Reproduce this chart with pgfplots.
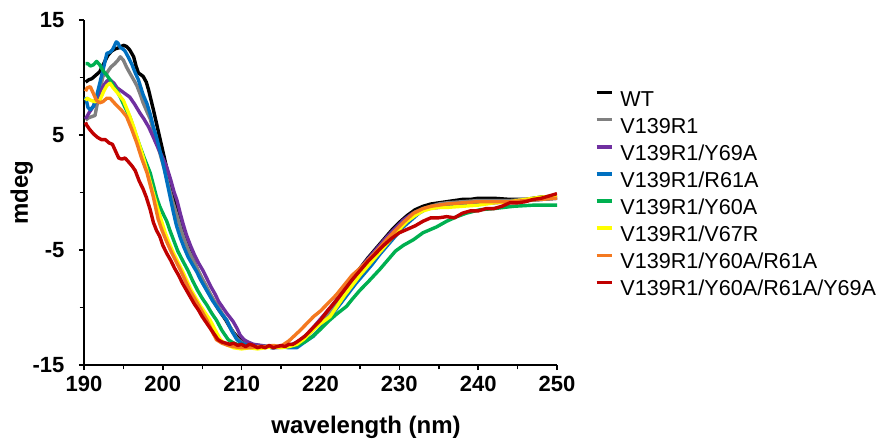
\documentclass[border=0pt]{standalone}
\usepackage{fontspec}
\setmainfont{Liberation Sans}
\usepackage{pgfplots}
\usepackage{pgfplotstable}
\pgfplotsset{compat=1.18}

\definecolor{cWT}{HTML}{000000}
\definecolor{cGray}{HTML}{808080}
\definecolor{cPurple}{HTML}{7030A0}
\definecolor{cBlue}{HTML}{0070C0}
\definecolor{cGreen}{HTML}{00B050}
\definecolor{cYellow}{HTML}{FFFF00}
\definecolor{cOrange}{HTML}{F47920}
\definecolor{cRed}{HTML}{C00000}

% CD spectra, wavelength (nm) vs mdeg
\pgfplotstableread{
x y
190.2 9.6
190.6 9.8
191.0 9.9
191.5 10.2
192.0 10.5
192.5 11.2
193.0 11.9
193.5 12.3
194.0 12.5
194.5 12.6
195.0 12.8
195.4 12.7
195.8 12.4
196.3 11.8
196.6 11.0
196.9 10.4
197.5 10.1
197.9 9.6
198.2 8.9
198.8 7.2
199.4 5.4
200.0 3.6
200.5 2.1
201.0 0.6
201.5 -0.8
202.0 -2.2
202.5 -3.4
203.0 -4.4
203.5 -5.3
204.0 -6.1
204.5 -6.9
205.0 -7.6
205.5 -8.3
206.0 -8.9
206.5 -9.5
207.0 -10.1
207.5 -10.6
208.0 -11.1
208.5 -11.7
209.0 -12.2
209.5 -12.6
210.0 -12.9
210.5 -13.1
211.0 -13.2
212.0 -13.3
213.0 -13.4
214.0 -13.5
215.0 -13.4
216.0 -13.3
217.0 -13.1
218.0 -12.6
219.0 -11.9
220.0 -11.1
221.0 -10.3
222.0 -9.4
223.0 -8.5
224.0 -7.5
225.0 -6.6
226.0 -5.7
227.0 -4.9
228.0 -4.1
229.0 -3.3
230.0 -2.6
231.0 -2.0
232.0 -1.5
233.0 -1.2
234.0 -1.0
235.0 -0.9
236.0 -0.8
237.0 -0.7
238.0 -0.6
239.0 -0.6
240.0 -0.5
242.0 -0.5
244.0 -0.6
246.0 -0.6
247.0 -0.5
248.0 -0.4
250.0 -0.3
}\wt

\pgfplotstableread{
x y
190.2 6.3
190.6 6.5
191.0 6.6
191.4 6.7
191.9 8.5
192.4 10.1
192.9 10.4
193.4 10.9
193.9 11.2
194.3 11.5
194.6 11.8
195.0 11.5
195.4 10.9
195.8 10.4
196.3 9.8
196.7 9.3
197.1 8.6
197.5 7.8
198.0 7.0
198.4 6.4
198.8 5.4
199.3 4.2
199.8 3.0
200.3 1.8
200.8 0.4
201.3 -0.9
201.8 -2.0
202.3 -3.2
202.8 -4.2
203.3 -5.1
203.8 -5.8
204.5 -6.8
205.0 -7.5
205.5 -8.1
206.0 -8.8
206.5 -9.4
207.0 -9.9
207.5 -10.5
208.1 -11.1
208.7 -11.9
209.3 -12.6
209.9 -13.0
210.5 -13.2
211.5 -13.3
212.5 -13.4
213.5 -13.4
214.5 -13.5
215.5 -13.4
216.5 -13.3
217.0 -13.2
218.0 -12.7
219.0 -12.0
220.0 -11.3
221.0 -10.5
222.0 -9.6
223.0 -8.7
224.0 -7.7
225.0 -6.8
226.0 -5.9
227.0 -5.1
228.0 -4.3
229.0 -3.5
230.0 -2.8
231.0 -2.2
232.0 -1.7
233.0 -1.4
234.0 -1.2
235.0 -1.0
236.0 -0.9
238.0 -0.8
240.0 -0.7
242.0 -0.7
244.0 -0.7
246.0 -0.6
248.0 -0.5
250.0 -0.4
}\vone

\pgfplotstableread{
x y
190.2 6.4
190.7 7.0
191.2 7.5
191.8 8.4
192.4 9.2
192.9 9.7
193.3 9.8
193.8 9.5
194.2 9.1
194.6 8.9
195.2 8.6
195.8 8.3
196.4 7.7
197.1 6.9
197.6 6.4
198.2 5.7
198.8 4.8
199.5 3.7
200.0 3.0
200.5 2.2
201.0 1.1
201.4 0.1
201.8 -0.7
202.2 -1.8
202.6 -2.8
203.0 -3.7
203.5 -4.6
204.0 -5.4
204.5 -6.1
205.1 -6.8
205.6 -7.5
206.1 -8.2
206.6 -8.8
207.1 -9.5
207.6 -10.0
208.1 -10.5
208.9 -11.2
209.4 -11.8
209.8 -12.4
210.3 -12.8
210.8 -13.0
211.5 -13.2
212.5 -13.3
213.5 -13.4
214.5 -13.4
215.5 -13.3
216.5 -13.2
217.5 -12.8
218.5 -12.2
219.5 -11.4
220.5 -10.6
221.5 -9.8
222.5 -8.9
223.5 -8.0
224.5 -7.1
225.5 -6.2
226.5 -5.4
227.5 -4.6
228.5 -3.8
229.5 -3.1
230.5 -2.4
231.5 -1.9
232.5 -1.6
233.5 -1.4
235.0 -1.3
236.0 -1.2
238.0 -1.1
240.0 -1.0
242.0 -0.9
244.0 -0.8
246.0 -0.7
248.0 -0.6
250.0 -0.5
}\vyA

\pgfplotstableread{
x y
190.2 8.3
190.5 7.4
190.8 7.2
191.2 7.5
191.6 8.4
192.0 9.5
192.5 10.9
192.9 12.1
193.3 12.2
193.6 12.4
194.1 13.1
194.3 13.0
194.6 12.6
194.9 12.5
195.2 12.3
195.6 11.8
196.1 11.1
196.5 10.4
196.9 9.8
197.5 8.5
198.0 7.7
198.4 6.8
198.8 5.7
199.2 4.8
199.6 3.7
200.0 2.6
200.5 1.0
200.9 -0.3
201.3 -1.6
201.7 -2.8
202.2 -3.9
202.7 -4.8
203.2 -5.6
203.7 -6.2
204.3 -6.9
204.8 -7.6
205.3 -8.2
205.8 -8.8
206.3 -9.4
206.8 -9.9
207.4 -10.5
208.1 -11.1
208.7 -12.0
209.4 -12.8
210.0 -13.1
210.8 -13.3
212.0 -13.4
213.0 -13.4
214.0 -13.5
215.0 -13.4
216.0 -13.5
217.0 -13.5
218.0 -13.0
219.1 -12.5
220.0 -11.8
221.0 -11.0
221.6 -10.5
222.5 -9.7
223.5 -8.8
224.5 -7.9
225.5 -7.1
226.5 -6.3
227.5 -5.4
228.5 -4.6
229.5 -3.8
230.5 -3.0
231.5 -2.4
232.5 -1.8
233.5 -1.4
234.5 -1.2
236.0 -1.1
238.0 -1.0
240.0 -0.9
242.0 -0.8
244.0 -0.8
246.0 -0.7
248.0 -0.6
250.0 -0.5
}\vrA

\pgfplotstableread{
x y
190.2 11.2
190.5 11.2
190.8 11.0
191.2 11.1
191.6 11.4
192.0 11.1
192.4 10.6
192.9 10.2
193.3 9.8
193.8 9.2
194.2 8.8
194.6 8.3
195.2 7.4
195.8 6.6
196.4 5.4
197.1 4.0
197.7 2.9
198.4 1.7
199.2 -0.4
199.6 -1.2
200.0 -1.8
200.5 -2.5
200.9 -3.3
201.4 -4.2
201.9 -5.1
202.5 -5.9
203.2 -6.8
203.8 -7.7
204.4 -8.5
205.0 -9.2
205.6 -9.8
206.2 -10.5
206.8 -11.1
207.5 -12.0
208.3 -12.8
209.0 -13.1
209.8 -13.3
211.0 -13.4
212.0 -13.5
213.0 -13.4
214.0 -13.4
215.0 -13.4
216.0 -13.4
217.0 -13.3
218.0 -13.0
219.0 -12.5
220.0 -11.9
221.0 -11.2
222.0 -10.6
223.3 -9.9
224.0 -9.3
225.0 -8.5
226.0 -7.8
227.5 -6.7
228.5 -5.9
229.5 -5.1
230.5 -4.6
231.8 -4.1
233.0 -3.5
234.7 -3.0
236.0 -2.5
237.3 -2.1
238.5 -1.8
240.2 -1.5
242.0 -1.4
244.5 -1.2
247.0 -1.1
250.0 -1.1
}\vyB

\pgfplotstableread{
x y
190.2 8.0
190.4 8.2
190.9 8.0
191.4 7.9
192.0 8.0
192.5 8.8
192.9 9.3
193.3 9.5
193.7 9.1
194.2 8.7
195.0 8.0
195.6 7.0
196.3 5.7
196.9 4.4
197.5 3.1
198.2 1.4
198.8 -0.1
199.3 -1.3
199.8 -2.4
200.3 -3.5
200.8 -4.4
201.3 -5.2
201.8 -5.9
202.4 -6.7
203.0 -7.6
203.6 -8.5
204.2 -9.2
204.8 -9.9
205.4 -10.5
206.0 -11.1
206.6 -11.9
207.3 -12.8
208.0 -13.2
209.0 -13.5
210.0 -13.6
211.0 -13.5
212.0 -13.6
213.0 -13.5
214.0 -13.4
215.0 -13.5
216.0 -13.4
217.0 -13.2
217.8 -12.8
219.0 -12.0
220.0 -11.4
221.2 -10.8
222.0 -10.0
223.0 -9.0
224.0 -8.1
225.0 -7.2
226.0 -6.4
227.0 -5.6
228.0 -4.8
229.0 -4.0
230.0 -3.2
231.0 -2.5
232.0 -2.0
233.0 -1.6
234.0 -1.4
235.0 -1.3
236.0 -1.3
238.0 -1.2
240.0 -1.1
242.0 -0.9
244.0 -0.8
246.0 -0.6
248.0 -0.4
250.0 -0.3
}\vvR

\pgfplotstableread{
x y
190.2 8.8
190.4 9.1
190.8 9.2
191.2 8.6
191.6 8.0
192.0 7.8
192.4 7.9
192.9 8.2
193.3 8.2
193.7 7.9
194.1 7.6
194.7 7.2
195.4 6.6
196.0 5.6
196.7 4.3
197.3 3.0
198.0 1.7
198.8 -0.4
199.4 -2.3
199.9 -3.3
200.5 -4.3
201.1 -5.2
201.6 -5.9
202.2 -6.7
202.8 -7.6
203.4 -8.5
204.0 -9.2
204.6 -9.9
205.1 -10.5
205.6 -11.1
206.2 -12.0
206.8 -12.8
207.5 -13.1
208.3 -13.3
209.0 -13.4
210.0 -13.5
211.0 -13.5
212.0 -13.4
213.0 -13.4
214.0 -13.3
214.9 -13.4
216.0 -12.9
217.4 -12.0
219.1 -10.8
220.0 -10.3
221.0 -9.6
222.0 -8.9
223.3 -7.8
224.0 -7.2
225.0 -6.6
226.0 -5.9
227.5 -4.8
228.5 -4.0
229.5 -3.3
230.5 -2.6
231.8 -1.8
233.0 -1.4
234.0 -1.2
235.0 -1.1
236.0 -1.0
238.0 -0.9
240.0 -0.8
242.0 -0.8
244.0 -0.8
246.0 -0.7
248.0 -0.6
250.0 -0.5
}\vyrA

\pgfplotstableread{
x y
190.2 6.1
190.3 5.9
190.7 5.5
191.2 5.1
191.7 4.8
192.2 4.6
192.7 4.6
193.2 4.3
193.6 4.2
194.0 3.6
194.4 3.0
194.8 2.9
195.2 3.0
195.6 2.7
196.1 2.3
196.5 1.9
197.0 1.0
197.5 0.3
197.9 -0.4
198.4 -1.5
198.8 -2.6
199.2 -3.3
199.6 -3.8
200.0 -4.6
200.5 -5.3
201.0 -5.9
201.5 -6.6
202.0 -7.2
202.5 -7.9
203.0 -8.5
203.5 -9.1
204.0 -9.7
204.5 -10.2
205.0 -10.8
205.5 -11.3
206.0 -11.8
206.5 -12.3
207.0 -12.8
207.5 -13.0
208.0 -13.1
208.5 -13.2
209.0 -13.1
209.5 -13.3
210.0 -13.2
210.5 -13.4
211.0 -13.2
211.5 -13.3
212.0 -13.5
212.5 -13.4
213.0 -13.5
213.5 -13.3
214.0 -13.5
214.5 -13.4
215.0 -13.3
215.5 -13.4
216.0 -13.2
216.5 -13.2
217.0 -13.0
218.0 -12.5
219.0 -11.8
220.0 -11.1
221.0 -10.2
222.0 -9.4
223.0 -8.5
224.0 -7.6
225.0 -6.8
226.0 -6.0
227.0 -5.3
228.0 -4.6
229.0 -4.0
230.0 -3.5
231.0 -3.2
232.0 -2.9
233.0 -2.5
234.0 -2.2
235.0 -2.2
236.0 -2.1
237.0 -2.2
238.0 -1.8
239.0 -1.6
240.0 -1.6
241.0 -1.4
242.0 -1.4
243.0 -1.2
244.0 -0.9
245.0 -0.9
246.0 -0.8
247.0 -0.6
248.0 -0.5
249.0 -0.3
250.0 -0.1
}\vall

\begin{document}
\begin{tikzpicture}
\begin{axis}[
  name=ax,
  scale only axis,
  width=236.5pt, height=172.5pt,
  xmin=190, xmax=250, ymin=-15, ymax=15,
  axis lines*=left,
  axis line style={line width=0.75pt},
  tick style={line width=0.75pt, black},
  tick align=outside,
  major tick length=2.6pt,
  minor tick length=2.2pt,
  xtick={190,200,...,250},
  minor xtick={195,205,...,245},
  ytick={-15,-5,5,15},
  yticklabels={-15,-5,5,15},
  minor ytick={-10,0,10},
  /pgf/number format/assume math mode=true,
  ticklabel style={font=\bfseries\fontsize{11}{13}\selectfont},
  xticklabel style={inner sep=0pt, yshift=-3pt},
  yticklabel style={inner sep=0pt, xshift=-7pt},
  xlabel={wavelength (nm)},
  ylabel={mdeg},
  label style={font=\bfseries\fontsize{12}{14}\selectfont},
  xlabel style={at={(axis description cs:0.5962,-0.1971)}, anchor=base},
  ylabel style={at={(axis description cs:-0.1184,0.5)}, anchor=base, rotate=0},
  every axis plot/.append style={line width=1.7pt, line join=round},
  legend cell align=left,
  legend style={at={(axis description cs:1.0803,0.7957)}, anchor=north west,
    draw=none, fill=none, inner sep=0pt, outer sep=0pt,
    row sep=3.55pt, column sep=3.5pt,
    font=\fontsize{10.8}{13}\selectfont,
    nodes={inner sep=0pt, text height=7.8pt, text depth=2.2pt}},
  legend image code/.code={\draw[#1, line width=1.7pt] (0pt,3.9pt) -- (7.5pt,3.9pt);},
]
\addplot[cWT] table {\wt};
\addlegendentry{WT}
\addplot[cGray] table {\vone};
\addlegendentry{V139R1}
\addplot[cPurple] table {\vyA};
\addlegendentry{V139R1/Y69A}
\addplot[cBlue] table {\vrA};
\addlegendentry{V139R1/R61A}
\addplot[cGreen] table {\vyB};
\addlegendentry{V139R1/Y60A}
\addplot[cYellow] table {\vvR};
\addlegendentry{V139R1/V67R}
\addplot[cOrange] table {\vyrA};
\addlegendentry{V139R1/Y60A/R61A}
\addplot[cRed] table {\vall};
\addlegendentry{V139R1/Y60A/R61A/Y69A}
\end{axis}
\pgfresetboundingbox
\path[use as bounding box] ([shift={(-42pt,-37pt)}]ax.south west) rectangle ([shift={(396.5pt,182.5pt)}]ax.south west);
\end{tikzpicture}
\end{document}
